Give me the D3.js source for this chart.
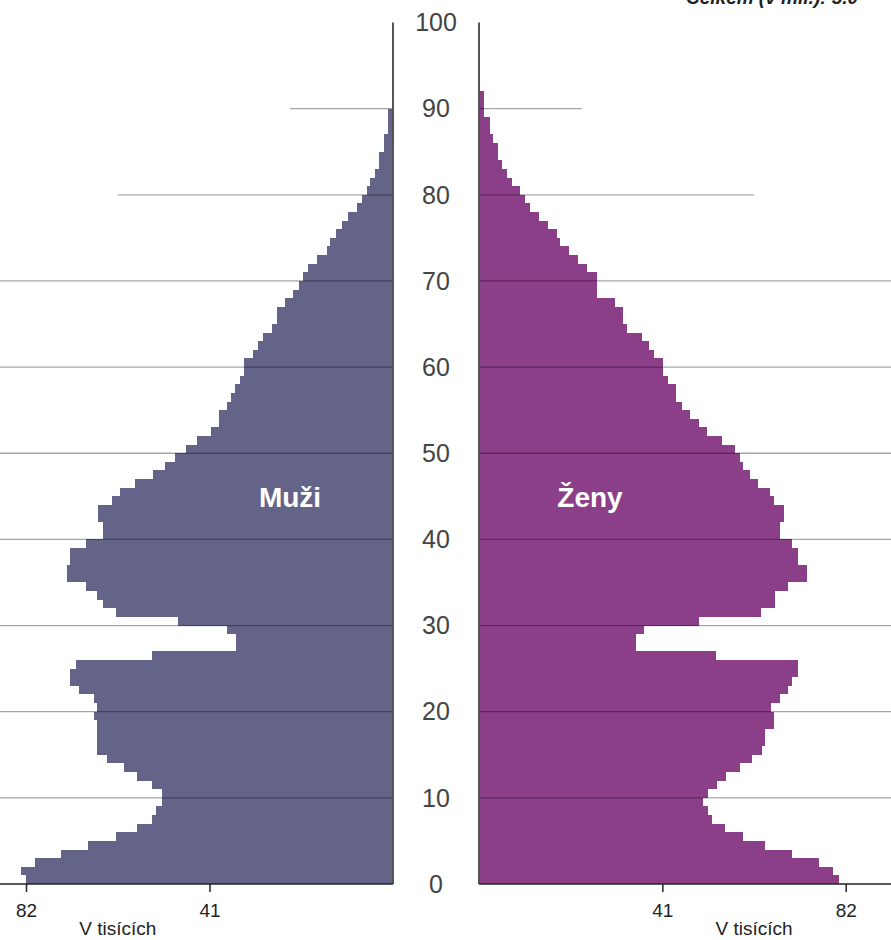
<!DOCTYPE html>
<meta charset="utf-8">
<style>
body {
  margin: 0;
  font-family: "Liberation Sans", Arial, sans-serif;
}
.grid line {
  stroke: #000;
  stroke-opacity: 0.35;
  stroke-width: 1.3px;
}
.axis text {
  font-size: 19px;
  fill: #222;
}
.axis line {
  stroke: #222;
  stroke-width: 1.5px;
}
</style>
<body>
<script src="https://d3js.org/d3.v7.min.js"></script>
<script>

var width = 891,
    height = 940;

// ages 0..89 (men), 0..91 (women), thousands
var men = [82.1, 83.1, 79.9, 74.1, 68.2, 62.0, 57.2, 53.8, 52.9, 51.7,
  51.7, 53.8, 57.2, 60.0, 63.9, 66.1, 66.1, 66.1, 66.1, 66.8,
  66.1, 66.8, 70.2, 72.1, 72.1, 70.9, 53.8, 35.1, 35.1, 37.2,
  48.0, 62.0, 64.7, 66.1, 68.7, 72.9, 72.9, 72.1, 72.1, 68.7,
  64.8, 64.8, 65.9, 65.9, 62.7, 61.1, 57.7, 53.6, 51.0, 48.8,
  46.2, 43.9, 40.7, 38.9, 38.9, 37.2, 36.1, 35.3, 34.2, 33.3,
  33.3, 31.3, 30.2, 29.0, 27.1, 25.9, 25.9, 24.2, 22.3, 21.0,
  20.2, 19.0, 16.9, 14.8, 14.1, 12.8, 11.3, 10.0, 8.1, 7.0,
  5.9, 5.1, 4.0, 3.1, 3.1, 2.0, 2.0, 1.1, 1.1, 1.1];

var women = [80.4, 79.1, 76.1, 70.1, 64.0, 59.1, 55.0, 52.1, 51.1, 50.2,
  51.1, 53.2, 55.3, 58.4, 61.0, 63.2, 64.0, 64.0, 66.0, 66.0,
  65.3, 67.2, 69.2, 70.1, 71.3, 71.3, 53.0, 35.1, 35.1, 37.0,
  49.3, 63.1, 66.1, 66.1, 69.2, 73.3, 73.3, 71.3, 71.3, 70.1,
  67.2, 67.2, 68.1, 68.1, 66.0, 65.1, 62.3, 60.5, 59.1, 58.4,
  57.3, 54.3, 50.9, 49.3, 47.2, 45.3, 44.1, 44.1, 42.2, 41.2,
  41.2, 39.2, 38.1, 36.4, 33.2, 32.3, 32.3, 30.4, 26.3, 26.3,
  26.3, 24.1, 22.2, 20.1, 18.1, 17.5, 15.4, 13.4, 11.4, 10.3,
  9.2, 7.3, 6.3, 5.2, 4.3, 4.3, 3.2, 2.5, 2.5, 1.1,
  1.1, 1.1];

var ageTicks = [0, 10, 20, 30, 40, 50, 60, 70, 80, 90, 100];
var gridAges = [10, 20, 30, 40, 50, 60, 70, 80, 90];
var gridReach = {80: 61.5, 90: 23};
var valueTicks = [82, 41];

var y = d3.scaleLinear().domain([0, 100]).range([884, 22.5]);
var xL = d3.scaleLinear().domain([0, 82]).range([393, 26]);
var xR = d3.scaleLinear().domain([0, 82]).range([479, 845.7]);

var svg = d3.select("body").append("svg")
    .attr("width", width)
    .attr("height", height);

svg.append("g").selectAll("rect")
  .data(men)
  .enter().append("rect")
  .attr("shape-rendering", "crispEdges")
  .attr("x", function(d){ return xL(d); })
  .attr("y", function(d, i){ return y(i + 1); })
  .attr("width", function(d){ return xL(0) - xL(d); })
  .attr("height", function(d, i){ return y(i) - y(i + 1); })
  .attr("fill", "#646489");

svg.append("g").selectAll("rect")
  .data(women)
  .enter().append("rect")
  .attr("shape-rendering", "crispEdges")
  .attr("x", xR(0))
  .attr("y", function(d, i){ return y(i + 1); })
  .attr("width", function(d){ return xR(d) - xR(0); })
  .attr("height", function(d, i){ return y(i) - y(i + 1); })
  .attr("fill", "#8b3f88");

var grid = svg.append("g").attr("class", "grid");
grid.selectAll(".gl").data(gridAges)
  .enter().append("line")
  .attr("x1", function(d){ return gridReach[d] ? xL(gridReach[d]) : 0; })
  .attr("x2", xL(0))
  .attr("y1", function(d){ return y(d); })
  .attr("y2", function(d){ return y(d); });
grid.selectAll(".gr").data(gridAges)
  .enter().append("line")
  .attr("x1", xR(0))
  .attr("x2", function(d){ return gridReach[d] ? xR(gridReach[d]) : width; })
  .attr("y1", function(d){ return y(d); })
  .attr("y2", function(d){ return y(d); });

// vertical axes
[xL(0), xR(0)].forEach(function(x){
  svg.append("line")
    .attr("x1", x).attr("x2", x)
    .attr("y1", y(100)).attr("y2", y(0))
    .attr("stroke", "#555")
    .attr("stroke-width", 2);
});

// bottom baselines
svg.append("line")
  .attr("x1", 0).attr("x2", xL(0))
  .attr("y1", y(0)).attr("y2", y(0))
  .attr("stroke", "#222").attr("stroke-width", 1.5);
svg.append("line")
  .attr("x1", xR(0)).attr("x2", width)
  .attr("y1", y(0)).attr("y2", y(0))
  .attr("stroke", "#222").attr("stroke-width", 1.5);

var axL = svg.append("g").attr("class", "axis")
  .attr("transform", "translate(0," + y(0) + ")")
  .call(d3.axisBottom(xL).tickValues(valueTicks).tickSize(8).tickPadding(12));
axL.select(".domain").remove();
var axR = svg.append("g").attr("class", "axis")
  .attr("transform", "translate(0," + y(0) + ")")
  .call(d3.axisBottom(xR).tickValues(valueTicks).tickSize(8).tickPadding(12));
axR.select(".domain").remove();
svg.selectAll(".axis text").attr("font-family", null);

svg.append("text")
  .attr("x", (xL(82) + xL(41)) / 2)
  .attr("y", 935)
  .attr("text-anchor", "middle")
  .attr("font-size", 19)
  .attr("fill", "#222")
  .text("V tisících");
svg.append("text")
  .attr("x", (xR(82) + xR(41)) / 2)
  .attr("y", 935)
  .attr("text-anchor", "middle")
  .attr("font-size", 19)
  .attr("fill", "#222")
  .text("V tisících");

// age labels in the middle
svg.append("g").selectAll("text")
  .data(ageTicks)
  .enter().append("text")
  .attr("x", (xL(0) + xR(0)) / 2)
  .attr("y", function(d){ return y(d); })
  .attr("dy", "0.35em")
  .attr("text-anchor", "middle")
  .attr("font-size", 25)
  .attr("fill", "#444")
  .text(function(d){ return d; });

svg.append("text")
  .attr("x", 290).attr("y", 507)
  .attr("text-anchor", "middle")
  .attr("font-size", 28)
  .attr("font-weight", "bold")
  .attr("fill", "#fff")
  .text("Muži");
svg.append("text")
  .attr("x", 590).attr("y", 507)
  .attr("text-anchor", "middle")
  .attr("font-size", 28)
  .attr("font-weight", "bold")
  .attr("fill", "#fff")
  .text("Ženy");

svg.append("text")
  .attr("x", 686).attr("y", 4)
  .attr("font-size", 19)
  .attr("font-weight", "bold")
  .attr("font-style", "italic")
  .attr("fill", "#222")
  .text("Celkem (v mil.): 5.0");

</script>
